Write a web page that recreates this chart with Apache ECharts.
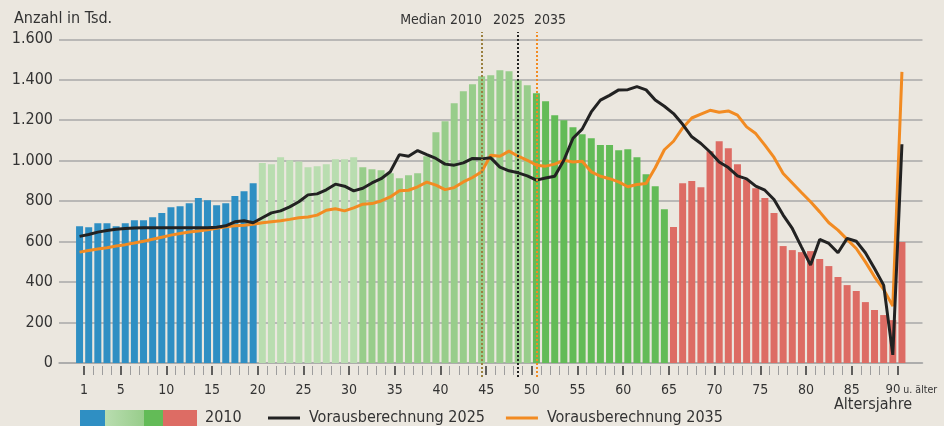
<!DOCTYPE html>
<html lang="de">
<head>
<meta charset="utf-8">
<title>Altersaufbau 2010, 2025, 2035</title>
<script src="https://cdn.jsdelivr.net/npm/echarts@6/dist/echarts.min.js"></script>
<style>
  html, body { margin: 0; padding: 0; background: #ebe7df; }
  #chart { width: 944px; height: 426px; }
</style>
</head>
<body>
<div id="chart"></div>
<script>
// Altersjahre 0 ... 90 (90 = 90 u. älter)
const ages = [0, 1, 2, 3, 4, 5, 6, 7, 8, 9, 10, 11, 12, 13, 14, 15, 16, 17, 18, 19,
  20, 21, 22, 23, 24, 25, 26, 27, 28, 29, 30, 31, 32, 33, 34, 35, 36, 37, 38, 39,
  40, 41, 42, 43, 44, 45, 46, 47, 48, 49, 50, 51, 52, 53, 54, 55, 56, 57, 58, 59,
  60, 61, 62, 63, 64, 65, 66, 67, 68, 69, 70, 71, 72, 73, 74, 75, 76, 77, 78, 79,
  80, 81, 82, 83, 84, 85, 86, 87, 88, 89, 90];

// Bestand 2010 (Tsd.)
const pop2010 = [676, 671, 691, 691, 676, 691, 706, 706, 721, 741,
  770, 775, 790, 815, 805, 780, 790, 825, 849, 889,
  988, 983, 1017, 1002, 996, 968, 973, 983, 1007, 1007,
  1017, 968, 958, 953, 938, 913, 928, 938, 1022, 1141,
  1195, 1284, 1343, 1378, 1417, 1422, 1447, 1442, 1397, 1373,
  1333, 1294, 1225, 1200, 1165, 1131, 1111, 1077, 1077, 1052,
  1057, 1017, 933, 874, 760, 672, 889, 899, 869, 1047,
  1096, 1062, 983, 904, 864, 815, 741, 578, 558, 548,
  553, 514, 479, 425, 385, 356, 301, 262, 237, 212, 598];

// Vorausberechnung 2025 (Tsd.)
const proj2025 = [626, 635, 647, 655, 661, 665, 667, 668, 668, 668,
  668, 668, 668, 668, 668, 671, 678, 698, 703, 693,
  718, 742, 752, 772, 797, 831, 836, 856, 884, 874,
  851, 864, 890, 911, 945, 1030, 1022, 1050, 1030, 1011,
  983, 978, 989, 1011, 1009, 1014, 968, 950, 940, 925,
  904, 914, 923, 1002, 1111, 1156, 1241, 1299, 1323, 1350,
  1351, 1366, 1350, 1300, 1269, 1233, 1180, 1118, 1085, 1043,
  994, 966, 925, 910, 874, 854, 808, 731, 665, 574,
  484, 611, 591, 545, 616, 602, 545, 467, 385, 40, 1081];

// Vorausberechnung 2035 (Tsd.)
const proj2035 = [548, 556, 563, 570, 578, 585, 593, 602, 612, 622,
  632, 640, 647, 653, 658, 666, 673, 678, 681, 686,
  693, 698, 703, 710, 718, 722, 731, 755, 762, 752,
  767, 785, 788, 801, 821, 851, 854, 871, 894, 879,
  857, 867, 895, 917, 945, 1027, 1022, 1047, 1022, 1002,
  978, 973, 983, 1002, 994, 997, 945, 923, 911, 895,
  871, 882, 887, 965, 1054, 1096, 1162, 1211, 1230, 1249,
  1239, 1246, 1225, 1167, 1134, 1077, 1016, 937, 890, 843,
  797, 747, 693, 657, 611, 566, 500, 426, 364, 281, 1439];

// Medianalter
const medianNames = ['2010', '2025', '2035'];
const medianAges = [44.5, 48.5, 50.5];

// Achsenbeschriftung
const majorTicks = [1, 5, 10, 15, 20, 25, 30, 35, 40, 45, 50, 55, 60, 65, 70, 75, 80, 85, 90];
const xLabels = [1, 5, 10, 15, 20, 25, 30, 35, 40, 45, 50, 55, 60, 65, 70, 75, 80, 85];
const yTicks = [0, 200, 400, 600, 800, 1000, 1200, 1400, 1600];

// Farbgruppen der Balken: bis (ausschließlich) Alter -> Farbe
const groupEnds = [20, 31, 50, 65, 91];
const groupColors = ['#2f8fc3', '#b9ddb0', '#98cd8b', '#63bb57', '#dd6c64'];
const medianColors = ['#9a8040', '#222222', '#f28b22'];

const FONT = '"DejaVu Sans Condensed", "Liberation Sans Narrow", "DejaVu Sans", sans-serif';
const TEXT = '#333333';
const GRID = '#a9a9a9';

const minorTicks = ages.filter(a => a >= 1 && a <= 90 && majorTicks.indexOf(a) < 0);

function barColor(age) {
  for (let i = 0; i < groupEnds.length; i++) {
    if (age < groupEnds[i]) return groupColors[i];
  }
  return groupColors[groupColors.length - 1];
}

// Balken und Linien sitzen mittig im Altersjahr: x = Alter + 0,5
const barData = ages.map((a, i) => ({
  value: [a + 0.5, pop2010[i]],
  itemStyle: {color: barColor(a)}
}));
const line25 = ages.map((a, i) => [a + 0.5, proj2025[i]]);
const line35 = ages.map((a, i) => [a + 0.5, proj2035[i]]);

const xMin = -1.75;
const xMax = 92.75;

// Medianlinien laufen im zweiten (höheren) Raster, ragen also oben und unten hinaus
const medianLines = medianAges.map((m, i) => ({
  xAxis: m,
  lineStyle: {color: medianColors[i], type: [2, 2], width: 2}
}));

const chart = echarts.init(document.getElementById('chart'));

let option = {
  backgroundColor: '#ebe7df',
  animation: false,
  textStyle: {fontFamily: FONT},
  grid: [
    {left: 59, right: 21.5, top: 39.3, bottom: 63, outerBoundsMode: 'none'},
    {left: 59, right: 21.5, top: 32, bottom: 49, outerBoundsMode: 'none'}
  ],
  legend: {
    left: 263,
    top: 405,
    icon: 'rect',
    itemWidth: 32,
    itemHeight: 3,
    itemGap: 21,
    selectedMode: false,
    data: ['Vorausberechnung 2025', 'Vorausberechnung 2035'],
    textStyle: {color: TEXT, fontSize: 16, fontFamily: FONT, padding: [0, 0, 0, 4]}
  },
  xAxis: [
    {
      // Grundlinie
      type: 'value', min: xMin, max: xMax,
      axisLine: {show: true, lineStyle: {color: GRID, width: 1.5}},
      axisTick: {show: false},
      axisLabel: {show: false},
      splitLine: {show: false}
    },
    {
      // kleine Striche
      type: 'value', min: xMin, max: xMax, position: 'bottom', offset: 3,
      axisLine: {show: false},
      axisTick: {show: true, length: 9, customValues: minorTicks, lineStyle: {color: '#9d9d9d', width: 1}},
      axisLabel: {show: false},
      splitLine: {show: false}
    },
    {
      // große Striche + Beschriftung
      type: 'value', min: xMin, max: xMax, position: 'bottom', offset: 3,
      axisLine: {show: false},
      axisTick: {show: true, length: 9, customValues: majorTicks, lineStyle: {color: '#333', width: 1.5}},
      axisLabel: {show: true, customValues: xLabels, margin: 17, color: TEXT, fontSize: 14, fontFamily: FONT},
      splitLine: {show: false}
    },
    {
      // letzte Klasse
      type: 'value', min: xMin, max: xMax, position: 'bottom', offset: 3,
      axisLine: {show: false},
      axisTick: {show: false},
      axisLabel: {
        show: true, customValues: [88.7], margin: 17, align: 'left',
        color: TEXT, fontSize: 13, fontFamily: FONT,
        formatter: () => '{a|90}{b| u. älter}',
        rich: {
          a: {fontSize: 13, color: TEXT, fontFamily: FONT},
          b: {fontSize: 10.5, color: TEXT, fontFamily: FONT, padding: [1, 0, 0, 0]}
        }
      },
      splitLine: {show: false}
    },
    {
      gridIndex: 1, type: 'value', min: xMin, max: xMax, show: false
    }
  ],
  yAxis: [
    {
      type: 'value',
      min: 0,
      max: 1600,
      interval: 200,
      axisLine: {show: false},
      axisTick: {show: false},
      axisLabel: {
        margin: 6, color: TEXT, fontSize: 16, fontFamily: FONT,
        customValues: yTicks,
        formatter: v => v.toLocaleString('de-DE')
      },
      splitLine: {show: true, lineStyle: {color: GRID, width: 1.5}}
    },
    {
      gridIndex: 1, type: 'value', min: 0, max: 1, show: false
    }
  ],
  series: [
    {
      name: '2010',
      type: 'bar',
      xAxisIndex: 0,
      yAxisIndex: 0,
      barWidth: 7,
      data: barData,
      z: 2
    },
    {
      name: 'Median',
      type: 'line',
      xAxisIndex: 4,
      yAxisIndex: 1,
      data: [],
      z: 5,
      markLine: {
        silent: true,
        symbol: 'none',
        label: {show: false},
        data: medianLines
      }
    },
    {
      name: 'Vorausberechnung 2025',
      type: 'line',
      xAxisIndex: 0,
      yAxisIndex: 0,
      data: line25,
      symbol: 'none',
      lineStyle: {color: '#222222', width: 3},
      itemStyle: {color: '#222222'},
      z: 4
    },
    {
      name: 'Vorausberechnung 2035',
      type: 'line',
      xAxisIndex: 0,
      yAxisIndex: 0,
      data: line35,
      symbol: 'none',
      lineStyle: {color: '#f28b22', width: 3},
      itemStyle: {color: '#f28b22'},
      z: 3
    }
  ],
  graphic: [
    {type: 'text', left: 14, top: 11, style: {text: 'Anzahl in Tsd.', fill: TEXT, font: '16px ' + FONT}},
    {type: 'text', left: 834, top: 397, style: {text: 'Altersjahre', fill: TEXT, font: '16px ' + FONT}},
    {type: 'text', right: 944 - 482, top: 13, style: {text: 'Median ' + medianNames[0], fill: TEXT, font: '14px ' + FONT, textAlign: 'right'}},
    {type: 'text', left: 493, top: 13, style: {text: medianNames[1], fill: TEXT, font: '14px ' + FONT}},
    {type: 'text', left: 534, top: 13, style: {text: medianNames[2], fill: TEXT, font: '14px ' + FONT}},
    // Legendenfeld 2010
    {type: 'rect', shape: {x: 80, y: 410, width: 25, height: 16}, style: {fill: groupColors[0]}},
    {
      type: 'rect', shape: {x: 105, y: 410, width: 39, height: 16},
      style: {
        fill: new echarts.graphic.LinearGradient(0, 0, 1, 0, [
          {offset: 0, color: groupColors[1]},
          {offset: 1, color: groupColors[2]}
        ])
      }
    },
    {type: 'rect', shape: {x: 144, y: 410, width: 19, height: 16}, style: {fill: groupColors[3]}},
    {type: 'rect', shape: {x: 163, y: 410, width: 34, height: 16}, style: {fill: groupColors[4]}},
    {type: 'text', left: 205, top: 410, style: {text: '2010', fill: TEXT, font: '16px ' + FONT}}
  ]
};

chart.setOption(option);
</script>
</body>
</html>
